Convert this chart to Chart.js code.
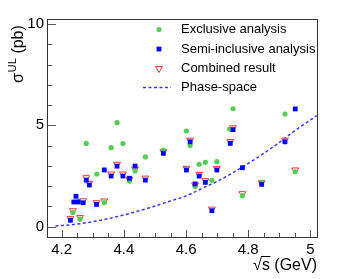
<!DOCTYPE html>
<html>
<head>
<meta charset="utf-8">
<title>Upper limits</title>
<script src="https://cdn.jsdelivr.net/npm/chart.js@4.4.0/dist/chart.umd.min.js"></script>
<style>
  html, body { margin: 0; padding: 0; background: #fff; }
  #wrap { width: 341px; height: 279px; }
</style>
</head>
<body>
<div id="wrap"><canvas id="chart" width="341" height="279"></canvas></div>
<script>
// Exclusive analysis (green dots)
const exclX = [4.236, 4.255, 4.259, 4.279, 4.313, 4.337, 4.359, 4.378, 4.397, 4.418, 4.436, 4.469, 4.527,
               4.601, 4.613, 4.629, 4.642, 4.662, 4.683, 4.699, 4.740, 4.751, 4.781, 4.843, 4.918, 4.951];
const exclY = [0.70, 1.25, 0.38, 4.11, 2.60, 1.19, 3.90, 5.13, 4.10, 2.26, 2.75, 3.44, 3.78,
               4.72, 4.00, 1.98, 3.08, 3.18, 2.29, 3.21, 4.82, 5.82, 1.53, 2.20, 5.56, 2.71];

// Semi-inclusive analysis (blue squares)
const semiX = [4.228, 4.239, 4.246, 4.253, 4.269, 4.279, 4.289, 4.312, 4.337, 4.359, 4.378, 4.397, 4.418, 4.436, 4.469,
               4.527, 4.601, 4.613, 4.629, 4.642, 4.662, 4.683, 4.699, 4.742, 4.751, 4.781, 4.843, 4.918, 4.951];
const semiY = [0.32, 1.22, 1.50, 1.22, 1.18, 2.30, 2.06, 1.10, 2.80, 2.50, 2.99, 2.50, 2.39, 2.99, 2.30,
               3.62, 2.80, 4.19, 2.11, 2.50, 2.19, 0.79, 2.80, 4.11, 4.79, 2.91, 2.09, 4.19, 5.81];

// Combined result (open red triangles)
const combX = [4.228, 4.236, 4.259, 4.269, 4.279, 4.289, 4.312, 4.337, 4.359, 4.378, 4.397, 4.418, 4.436, 4.469,
               4.527, 4.601, 4.613, 4.629, 4.642, 4.662, 4.683, 4.699, 4.742, 4.751, 4.781, 4.843, 4.918, 4.951];
const combY = [0.40, 0.79, 0.45, 1.28, 2.42, 2.14, 1.18, 1.27, 2.60, 3.08, 2.60, 2.34, 2.85, 2.40,
               3.70, 2.88, 4.27, 2.06, 2.58, 2.27, 0.87, 2.88, 4.20, 4.88, 1.63, 2.17, 4.27, 2.80];

// Phase-space curve
const phaseX = [4.18, 4.25, 4.30, 4.35, 4.40, 4.45, 4.50, 4.55, 4.60, 4.65, 4.70, 4.75, 4.80, 4.85, 4.90, 4.95, 5.02];
const phaseY = [0.03, 0.13, 0.25, 0.40, 0.58, 0.79, 1.02, 1.27, 1.52, 1.88, 2.24, 2.66, 3.12, 3.62, 4.16, 4.74, 5.48];

// Axes
const xTicks = [4.2, 4.4, 4.6, 4.8, 5.0];
const xTickLabels = ['4.2', '4.4', '4.6', '4.8', '5'];
const yTicks = [0, 5, 10];
const yTickLabels = ['0', '5', '10'];

const FONT = "'Liberation Sans', Arial, sans-serif";

function toPoints(xs, ys) {
    return xs.map((x, i) => ({ x: x, y: ys[i] }));
}

// Axis frame with ROOT-style inner ticks
const frameAndTicks = {
    id: 'frameAndTicks',
    afterDraw(chart) {
        const { ctx, chartArea: a, scales: { x, y } } = chart;
        ctx.save();
        ctx.strokeStyle = '#555';
        ctx.lineWidth = 1;
        ctx.beginPath();
        for (let v = 0; v <= 10; v++) {
            const py = Math.round(y.getPixelForValue(v)) + 0.5;
            const len = yTicks.includes(v) ? 8 : 4;
            ctx.moveTo(a.left, py);
            ctx.lineTo(a.left + len, py);
        }
        for (let k = 0; k <= 16; k++) {
            const v = 4.2 + k * 0.05;
            const px = Math.round(x.getPixelForValue(v)) + 0.5;
            const len = k % 4 === 0 ? 7 : 4;
            ctx.moveTo(px, a.bottom);
            ctx.lineTo(px, a.bottom - len);
        }
        ctx.stroke();

        ctx.strokeStyle = '#333';
        ctx.strokeRect(Math.round(a.left) - 0.5, Math.round(a.top) - 0.5,
                       Math.round(a.right - a.left) + 1, Math.round(a.bottom - a.top) + 1);
        ctx.restore();
    }
};

// Axis titles
const axisTitles = {
    id: 'axisTitles',
    afterDraw(chart) {
        const { ctx, chartArea: a } = chart;
        ctx.save();
        ctx.fillStyle = '#000';
        ctx.textBaseline = 'alphabetic';

        // y title: sigma^UL (pb)
        ctx.translate(23, 83);
        ctx.rotate(-Math.PI / 2);
        ctx.textAlign = 'left';
        ctx.font = '16px ' + FONT;
        ctx.fillText('σ', 0, 0);
        let w = ctx.measureText('σ').width + 1;
        ctx.font = '11px ' + FONT;
        ctx.fillText('UL', w, -7);
        w += ctx.measureText('UL').width;
        ctx.font = '16px ' + FONT;
        ctx.fillText(' (pb)', w, 0);
        ctx.setTransform(1, 0, 0, 1, 0, 0);

        // x title: sqrt(s) (GeV)
        ctx.font = '16px ' + FONT;
        const base = 270;
        const rest = 's (GeV)';
        const restW = ctx.measureText(rest).width;
        const sW = ctx.measureText('s').width;
        const startX = Math.round(a.right) - restW;
        ctx.fillText(rest, startX, base);
        const radW = ctx.measureText('√').width;
        ctx.fillText('√', startX - radW, base);
        ctx.strokeStyle = '#000';
        ctx.lineWidth = 1;
        ctx.beginPath();
        ctx.moveTo(startX - 1, base - 13.5);
        ctx.lineTo(startX + sW + 0.5, base - 13.5);
        ctx.stroke();
        ctx.restore();
    }
};

// Legend inside the frame
const insideLegend = {
    id: 'insideLegend',
    afterDraw(chart) {
        const { ctx } = chart;
        const rows = [
            chart.data.datasets[1],
            chart.data.datasets[0],
            chart.data.datasets[2],
            chart.data.datasets[3]
        ];
        const rowY = [29.5, 49, 68.5, 87.5];
        ctx.save();
        ctx.font = '13px ' + FONT;
        ctx.textBaseline = 'middle';
        ctx.textAlign = 'left';
        rows.forEach((ds, i) => {
            const yy = rowY[i];
            if (ds.showLine) {
                ctx.strokeStyle = ds.borderColor;
                ctx.lineWidth = ds.borderWidth;
                ctx.setLineDash(ds.borderDash);
                ctx.beginPath();
                ctx.moveTo(143, yy);
                ctx.lineTo(171, yy);
                ctx.stroke();
                ctx.setLineDash([]);
            } else {
                ctx.fillStyle = ds.backgroundColor;
                ctx.strokeStyle = ds.borderColor;
                ctx.lineWidth = ds.borderWidth;
                Chart.helpers.drawPoint(ctx, {
                    pointStyle: ds.pointStyle,
                    rotation: ds.pointRotation || 0,
                    radius: ds.pointRadius,
                    borderWidth: ds.borderWidth
                }, 159, yy);
            }
            ctx.fillStyle = '#000';
            ctx.fillText(ds.label, 181, yy);
        });
        ctx.restore();
    }
};

new Chart(document.getElementById('chart'), {
    type: 'scatter',
    data: {
        datasets: [
            {
                label: 'Semi-inclusive analysis',
                data: toPoints(semiX, semiY),
                pointStyle: 'rect',
                pointRadius: 3.4,
                backgroundColor: '#0000ff',
                borderColor: '#0000ff',
                borderWidth: 0,
                order: 0
            },
            {
                label: 'Exclusive analysis',
                data: toPoints(exclX, exclY),
                pointStyle: 'circle',
                pointRadius: 2.6,
                backgroundColor: '#55cc55',
                borderColor: '#55cc55',
                borderWidth: 0,
                order: 1
            },
            {
                label: 'Combined result',
                data: toPoints(combX, combY),
                pointStyle: 'triangle',
                pointRotation: 180,
                pointRadius: 4,
                backgroundColor: 'rgba(0,0,0,0)',
                borderColor: '#ff3535',
                borderWidth: 1,
                order: 2
            },
            {
                label: 'Phase-space',
                data: toPoints(phaseX, phaseY),
                showLine: true,
                pointRadius: 0,
                borderColor: '#3838ff',
                backgroundColor: '#3838ff',
                borderWidth: 1.5,
                borderDash: [3, 2.5],
                cubicInterpolationMode: 'monotone',
                order: 3
            }
        ]
    },
    options: {
        responsive: false,
        animation: false,
        events: [],
        layout: { padding: { top: 20, right: 24, left: 0, bottom: 0 } },
        plugins: {
            legend: { display: false },
            tooltip: { enabled: false }
        },
        scales: {
            x: {
                type: 'linear',
                min: 4.156,
                max: 5.021,
                afterFit: s => { s.height = 42; },
                afterBuildTicks: s => { s.ticks = xTicks.map(v => ({ value: v })); },
                grid: { display: false, drawTicks: false },
                border: { display: false },
                ticks: {
                    padding: 4,
                    color: '#000',
                    maxRotation: 0,
                    font: { family: FONT, size: 15 },
                    callback: (v, i) => xTickLabels[i]
                }
            },
            y: {
                type: 'linear',
                min: -0.508,
                max: 10.197,
                afterFit: s => { s.width = 48; },
                afterBuildTicks: s => { s.ticks = yTicks.map(v => ({ value: v })); },
                grid: { display: false, drawTicks: false },
                border: { display: false },
                ticks: {
                    padding: 4,
                    color: '#000',
                    font: { family: FONT, size: 15 },
                    callback: (v, i) => yTickLabels[i]
                }
            }
        }
    },
    plugins: [frameAndTicks, axisTitles, insideLegend]
});
</script>
</body>
</html>
